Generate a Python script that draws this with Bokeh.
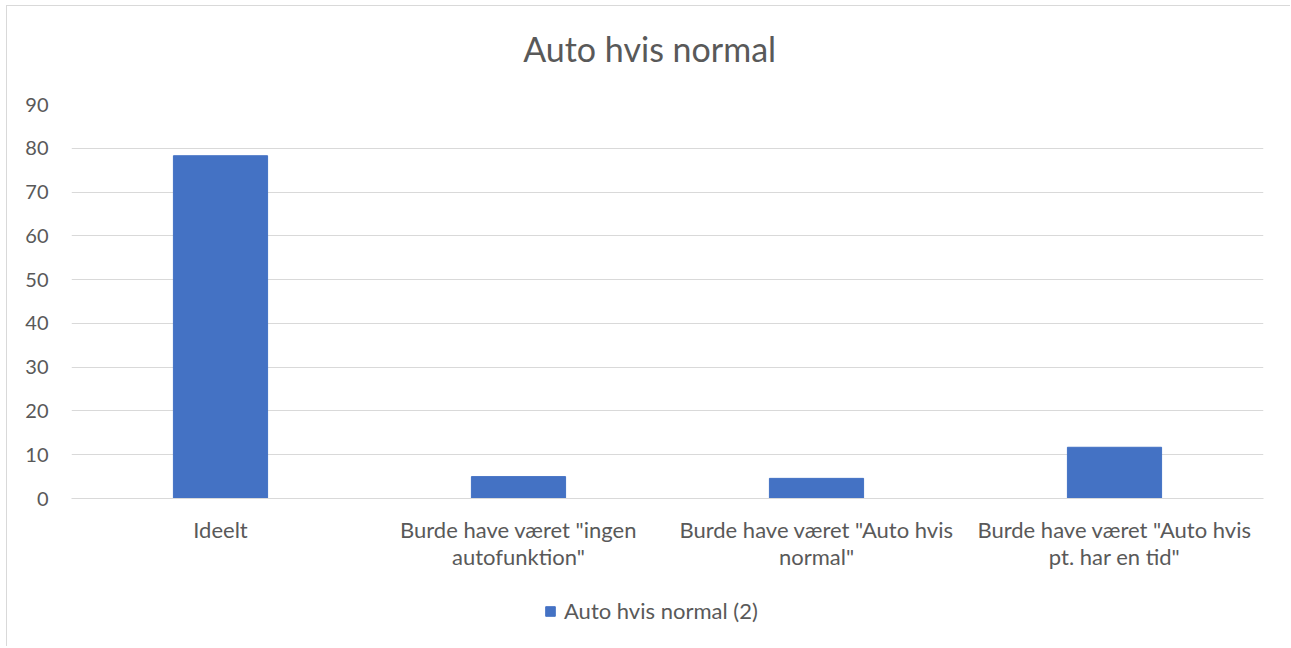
from bokeh.plotting import figure
from bokeh.layouts import column
from bokeh.models import FactorRange, Range1d, Legend, LegendItem, FixedTicker, ColumnDataSource, Label
from bokeh.embed import file_html
from bokeh.resources import INLINE

categories = ["Ideelt",
              "Burde have været \"ingen\nautofunktion\"",
              "Burde have været \"Auto hvis\nnormal\"",
              "Burde have været \"Auto hvis\npt. har en tid\""]
values = [78.3, 5.0, 4.6, 11.7]
series_name = "Auto hvis normal (2)"
title_text = "Auto hvis normal"
y_ticks = [0, 10, 20, 30, 40, 50, 60, 70, 80, 90]

FONT = "Lato"
GREY = "#595959"
BLUE = "#4472C4"
W = 1283

src = ColumnDataSource(dict(x=categories, top=values))

# title strip
tf = figure(width=W, height=84, output_backend="svg", toolbar_location=None,
            x_range=Range1d(0, 1), y_range=Range1d(0, 84), min_border=0)
tf.axis.visible = False
tf.grid.visible = False
tf.outline_line_color = None
tf.add_layout(Label(x=0.485, y=42, text=title_text, text_align="center", text_baseline="middle",
                    text_font=FONT, text_font_size="34px", text_color=GREY))

# main chart
p = figure(x_range=FactorRange(*categories), y_range=(0, 90),
           width=W, height=500, output_backend="svg", toolbar_location=None,
           min_border_left=64, min_border_right=W - 1256, min_border_top=14, min_border_bottom=92)
p.x_range.range_padding = 0
p.outline_line_color = None

r = p.vbar(x="x", top="top", width=0.316, source=src, fill_color=BLUE, line_color=BLUE)

p.yaxis.ticker = FixedTicker(ticks=y_ticks)
p.yaxis.axis_line_color = None
p.yaxis.major_tick_line_color = None
p.yaxis.minor_tick_line_color = None
p.yaxis.major_tick_out = 0
p.yaxis.major_label_standoff = 23
p.yaxis.major_label_text_font = FONT
p.yaxis.major_label_text_font_size = "20px"
p.yaxis.major_label_text_color = GREY

p.xaxis.axis_line_color = "#d9d9d9"
p.xaxis.major_tick_line_color = None
p.xaxis.minor_tick_line_color = None
p.xaxis.major_tick_out = 0
p.xaxis.major_label_standoff = 17
p.xaxis.major_label_text_font = FONT
p.xaxis.major_label_text_font_size = "22px"
p.xaxis.major_label_text_color = GREY
p.xaxis.major_label_text_line_height = 1.0

p.xgrid.grid_line_color = None
p.ygrid.grid_line_color = "#d9d9d9"
p.ygrid.grid_line_width = 1

# legend strip below the chart (its bars fall outside its visible range)
lf = figure(width=W, height=56, output_backend="svg", toolbar_location=None,
            x_range=FactorRange(*categories), y_range=Range1d(200, 201), min_border=0)
lf.axis.visible = False
lf.grid.visible = False
lf.outline_line_color = None
lr = lf.vbar(x="x", top="top", width=0.316, source=src, fill_color=BLUE, line_color=BLUE)
legend = Legend(items=[LegendItem(label=series_name, renderers=[lr])],
                location=(473, 22), orientation="horizontal",
                label_text_font=FONT, label_text_font_size="22px", label_text_color=GREY,
                glyph_width=12, glyph_height=12, label_standoff=8, padding=0, margin=0,
                border_line_color=None, background_fill_alpha=0)
lf.add_layout(legend, "center")

layout = column(tf, p, lf, spacing=0)
layout.styles = {"border-left": "1px solid #d9d9d9", "border-top": "1px solid #d9d9d9",
                 "margin-left": "6px", "margin-top": "5px"}

open("out.html", "w").write(file_html(layout, INLINE))
